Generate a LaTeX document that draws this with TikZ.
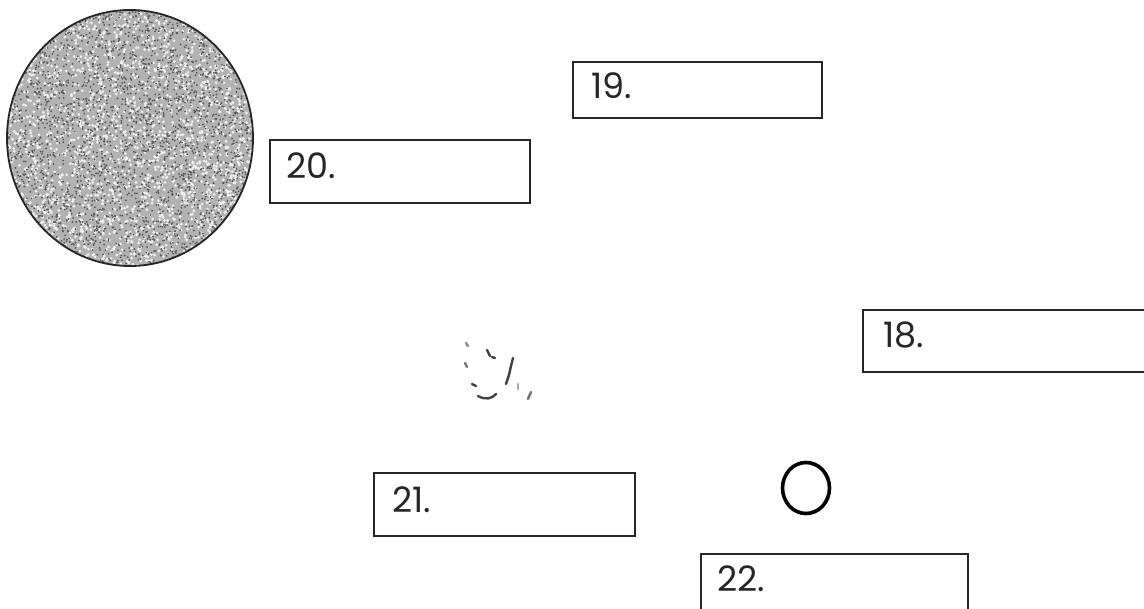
\documentclass[tikz,border=0pt]{standalone}
\usepackage{fontspec}
\usetikzlibrary{shapes.geometric}
\setmainfont{Poppins}
\begin{document}
\begin{tikzpicture}[x=1pt,y=-1pt,
  answerbox/.style={draw=black!85,line width=1.5pt},
  boxlabel/.style={anchor=base west,inner sep=0pt,font=\fontsize{35}{35}\selectfont,text=black!85},
  speck/.style={line width=2.4pt,line cap=round,black!75}]
\useasboundingbox (0,0) rectangle (1144,609);
\fill[white] (0,0) rectangle (1144,609);

% large speckled disc
\begin{scope}
  \clip (130,138) ellipse [x radius=123,y radius=128];
  \fill[black!30] (0,0) rectangle (260,270);
  \pgfmathsetseed{4711}
  \foreach \i in {1,...,2400}{
    \pgfmathsetmacro{\px}{7+245*rnd}
    \pgfmathsetmacro{\py}{10+257*rnd}
    \fill[black!6] (\px,\py) circle [radius=1.5];
  }
  \foreach \i in {1,...,3000}{
    \pgfmathsetmacro{\px}{7+245*rnd}
    \pgfmathsetmacro{\py}{10+257*rnd}
    \fill[black!65] (\px,\py) circle [radius=1.0];
  }
\end{scope}
\node[draw=black!85,line width=1.8pt,ellipse,minimum width=246pt,minimum height=256pt,inner sep=0pt] (disc) at (130,138) {};

% numbered answer boxes
\draw[answerbox] (573,62) rectangle (822,118);
\node[boxlabel] (l19) at (591,99) {19.};

\draw[answerbox] (270,140) rectangle (530,203);
\node[boxlabel] (l20) at (286,179) {20.};

\draw[answerbox] (863,310) rectangle (1150,372);
\node[boxlabel] (l18) at (883,348) {18.};

\draw[answerbox] (374,473) rectangle (635,536);
\node[boxlabel] (l21) at (392,513) {21.};

\draw[answerbox] (701,554) rectangle (968,620);
\node[boxlabel] (l22) at (717,591) {22.};

% small ring
\node[draw=black,line width=3.6pt,ellipse,minimum width=47pt,minimum height=51pt,inner sep=0pt] (ring) at (806,488) {};

% faint pencil marks
\draw[speck,black!45] (466,343) -- (468,346);
\draw[speck] (487,350) -- (490,356);
\draw[speck] (492,357) -- (495,358);
\draw[speck] (513,358) -- (511,366) -- (509,375) -- (506,384);
\draw[speck,black!55] (465,363) -- (467,367);
\draw[speck] (472,384) -- (476,386);
\draw[speck] (478,396) .. controls (485,400) and (492,399) .. (496,394);
\draw[speck,black!55] (531,392) -- (528,399);
\draw[speck,black!35] (518,384) -- (518,389);
\end{tikzpicture}
\end{document}
